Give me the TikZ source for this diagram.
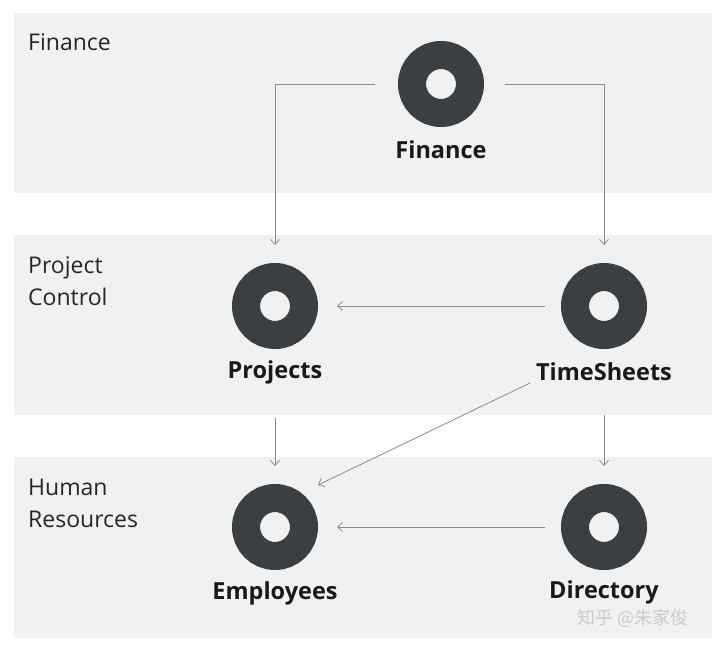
\documentclass[tikz,border=0pt]{standalone}
\usepackage{fontspec}
\setmainfont{Open Sans}
\newfontfamily\cjkwm{Noto Sans CJK SC}
\usetikzlibrary{arrows.meta,calc}
\definecolor{band}{HTML}{F1F1F1}
\definecolor{ring}{HTML}{3A3F44}
\definecolor{conn}{HTML}{8A8A8A}
\tikzset{
  bandbox/.style={fill=band, draw=none},
  bandlabel/.style={anchor=west, align=left, font=\fontsize{23}{32}\selectfont, text=black!85, inner sep=0pt},
  icon/.style={circle, draw=ring, line width=28pt, fill=band, minimum size=58pt, inner sep=0pt},
  iconlabel/.style={font=\fontsize{23.5}{26}\selectfont\bfseries, text=black!90, inner sep=0pt},
  connline/.style={draw=conn, line width=0.8pt, -{Straight Barb[length=5pt,width=9pt,line width=0.8pt]}},
}
\begin{document}
\begin{tikzpicture}[x=1pt,y=-1pt]
\useasboundingbox (0,0) rectangle (720,645);
\fill[white] (0,0) rectangle (720,645);
% bands
\path[bandbox] (14,13) rectangle (712,193);
\path[bandbox] (14,235) rectangle (712,415);
\path[bandbox] (14,457) rectangle (712,638);
% band labels
\node[bandlabel] (lfin) at (28,42) {Finance};
\node[bandlabel] (lpc) at (28,281) {Project\\Control};
\node[bandlabel] (lhr) at (28,503) {Human\\Resources};
% icons
\node[icon] (fin) at (441,84) {};
\node[icon] (proj) at (275,306) {};
\node[icon] (ts) at (604,306) {};
\node[icon] (emp) at (275,527) {};
\node[icon] (dir) at (604,527) {};
% icon labels
\node[iconlabel] (finl) at (441,150) {Finance};
\node[iconlabel] (projl) at (275,372) {Projects};
\node[iconlabel] (tsl) at (604,372) {TimeSheets};
\node[iconlabel] (empl) at (275,593) {Employees};
\node[iconlabel] (dirl) at (604,592) {Directory};
% connectors
\draw[connline, shorten <=23pt, shorten >=18pt] (fin.west) -| (proj.north);
\draw[connline, shorten <=21pt, shorten >=18pt] (fin.east) -| (ts.north);
\draw[connline, shorten <=16pt, shorten >=19pt] (ts.west) -- (proj.east);
\draw[connline, shorten <=16pt, shorten >=19pt] (dir.west) -- (emp.east);
\draw[connline] ($(projl.south)+(0,34)$) -- ($(emp.north)+(0,-18)$);
\draw[connline] ($(tsl.south)+(0,34)$) -- ($(dir.north)+(0,-18)$);
\coordinate (tsout) at (530,383);
\coordinate (empin) at ($(emp)+(43,-42)$);
\draw[connline] (tsout) -- (empin);
% watermark
\node[font=\cjkwm\fontsize{18}{20}\selectfont, text=black!20, inner sep=0pt] (wm) at (633,618) {知乎 @朱家俊};
\end{tikzpicture}
\end{document}
